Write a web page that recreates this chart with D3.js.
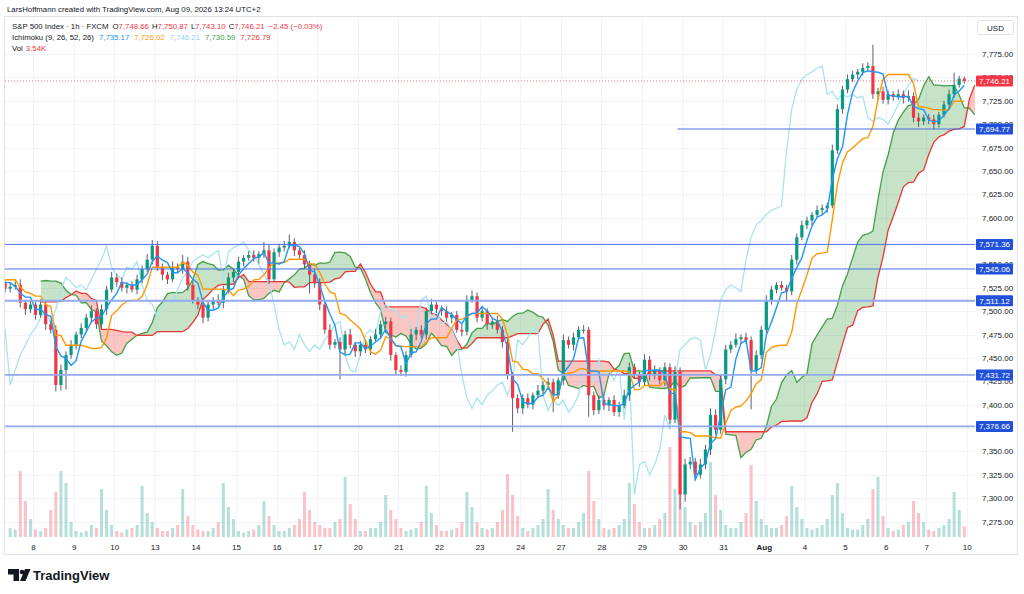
<!DOCTYPE html>
<html>
<head>
<meta charset="utf-8">
<script src="https://cdn.jsdelivr.net/npm/d3@7"></script>
<style>
  body { margin: 0; background: #fff; }
  svg { display: block; font-family: "Liberation Sans", Arial, sans-serif; }
</style>
</head>
<body>
<div id="chart"></div>
<script>
// S&P 500 Index, FXCM - one candle here stands for roughly 3 hours (8 per trading day)

// day labels along the time axis (first slot of each trading day)
const dayLabels = ["8", "9", "10", "13", "14", "15", "16", "17", "20", "21", "22", "23",
  "24", "27", "28", "29", "30", "31", "Aug", "4", "5", "6", "7", "10"];

const priceTicks = [7275, 7300, 7325, 7350, 7375, 7400, 7425, 7450, 7475, 7500, 7525,
  7550, 7575, 7600, 7625, 7650, 7675, 7700, 7725, 7750, 7775];

// bars left of the visible window (needed for the indicator look-back)
const earlierOpen = 7497;
const earlierCloses = [7495, 7488, 7482, 7478, 7485, 7492, 7500, 7506, 7512, 7518,
  7525, 7532, 7528, 7536, 7542, 7538, 7533, 7537, 7530, 7524];
const earlierWickUp = [4, 3, 4, 3, 5, 4, 3, 5, 4, 3, 5, 4, 3, 4, 5, 3, 4, 3, 4, 3];
const earlierWickDown = [3, 4, 3, 5, 4, 3, 4, 3, 5, 4, 3, 4, 5, 3, 4, 3, 4, 5, 3, 4];

// visible bars: close, wick above body, wick below body (points)
const closes = [
  7526, 7528, 7509, 7502, 7507,
  7496, 7507, 7486, 7480, 7421, 7437, 7453, 7464,
  7475, 7482, 7493, 7500, 7486, 7502, 7523, 7536,
  7531, 7525, 7528, 7523, 7534, 7545, 7555, 7570,
  7547, 7539, 7534, 7547, 7545, 7553, 7528, 7512,
  7507, 7493, 7507, 7512, 7509, 7523, 7536, 7542,
  7553, 7557, 7560, 7557, 7561, 7565, 7534, 7563,
  7568, 7570, 7574, 7565, 7560, 7550, 7539, 7530,
  7507, 7480, 7464, 7467, 7459, 7475, 7464, 7457,
  7464, 7459, 7470, 7475, 7486, 7489, 7453, 7437,
  7435, 7453, 7475, 7480, 7475, 7500, 7507, 7502,
  7500, 7493, 7496, 7480, 7478, 7512, 7516, 7493,
  7500, 7486, 7489, 7480, 7467, 7432, 7407, 7396,
  7407, 7400, 7410, 7415, 7421, 7424, 7410, 7426,
  7469, 7464, 7472, 7480, 7480, 7410, 7394, 7405,
  7399, 7405, 7392, 7399, 7410, 7440, 7432, 7424,
  7448, 7432, 7437, 7426, 7440, 7384, 7435, 7304,
  7336, 7339, 7325, 7336, 7352, 7389, 7373, 7427,
  7459, 7464, 7470, 7472, 7469, 7437, 7453, 7480,
  7512, 7523, 7528, 7525, 7521, 7555, 7579, 7592,
  7597, 7603, 7608, 7610, 7613, 7672, 7716, 7737,
  7748, 7753, 7756, 7760, 7762, 7732, 7735, 7726,
  7732, 7729, 7732, 7728, 7730, 7707, 7703, 7707,
  7705, 7700, 7710, 7721, 7732, 7742, 7748.66, 7746.21
];

const wickUp = [
  5, 4, 6, 3, 5,
  4, 6, 3, 4, 5, 6, 4, 5,
  3, 5, 4, 6, 3, 5, 4, 6,
  4, 5, 3, 4, 5, 4, 6, 6,
  5, 4, 3, 6, 4, 7, 5, 4,
  3, 5, 4, 3, 6, 4, 5, 4,
  5, 3, 4, 5, 3, 9, 6, 4,
  4, 5, 8, 4, 3, 5, 4, 6,
  5, 4, 6, 3, 5, 4, 6, 3,
  4, 5, 3, 6, 4, 5, 4, 3,
  5, 4, 6, 3, 5, 4, 6, 3,
  4, 5, 3, 4, 6, 5, 6, 4,
  5, 3, 4, 6, 4, 5, 3, 4,
  4, 5, 3, 6, 4, 5, 4, 3,
  6, 4, 5, 4, 5, 3, 4, 5,
  4, 3, 5, 4, 6, 5, 4, 3,
  6, 4, 5, 3, 5, 4, 6, 5,
  6, 5, 4, 6, 5, 7, 6, 5,
  5, 4, 6, 3, 5, 4, 5, 4,
  5, 4, 3, 4, 3, 5, 4, 5,
  4, 3, 5, 4, 3, 6, 5, 4,
  5, 4, 3, 5, 4, 23, 4, 5,
  4, 3, 5, 4, 6, 4, 5, 3,
  4, 5, 3, 4, 5, 13, 3, 2.21
];

const wickDown = [
  4, 3, 5, 6, 4,
  5, 3, 6, 4, 7, 6, 21, 4,
  5, 4, 3, 6, 5, 4, 6, 3,
  5, 4, 6, 3, 5, 4, 3, 5,
  4, 6, 5, 3, 4, 5, 6, 4,
  5, 6, 4, 5, 3, 6, 4, 5,
  4, 5, 3, 4, 6, 4, 5, 3,
  5, 4, 3, 6, 4, 5, 20, 5,
  6, 4, 5, 4, 32, 5, 4, 6,
  5, 4, 6, 3, 5, 4, 6, 5,
  4, 5, 3, 6, 4, 5, 3, 4,
  5, 4, 6, 3, 5, 4, 3, 5,
  4, 6, 5, 4, 6, 5, 36, 5,
  6, 4, 5, 3, 4, 5, 18, 4,
  5, 4, 6, 3, 4, 23, 5, 4,
  5, 6, 4, 5, 3, 6, 4, 5,
  4, 6, 5, 4, 6, 5, 4, 16,
  8, 5, 6, 4, 5, 6, 5, 4,
  5, 4, 3, 5, 4, 42, 5, 4,
  4, 5, 4, 3, 11, 4, 5, 3,
  4, 5, 3, 4, 5, 3, 4, 5,
  4, 3, 5, 4, 3, 5, 6, 4,
  5, 4, 3, 6, 4, 5, 6, 4,
  5, 6, 4, 3, 5, 4, 3, 3.11
];

// volume in thousands
const volumes = [
  3, 2.5, 22, 12, 6,
  2.5, 2, 3, 9, 15, 22, 18, 5,
  2, 1.5, 2, 4, 3, 16, 9, 4,
  2, 1.5, 2.5, 3, 4, 17, 8, 5,
  3, 2, 2, 3, 4, 16, 7, 4,
  2.5, 2, 2, 3, 5, 18, 10, 6,
  2, 1.5, 2, 2.5, 4, 12, 7, 4,
  2, 2, 3, 4, 6, 15, 9, 5,
  4, 3, 3, 5, 6, 20, 11, 6,
  2, 2, 3, 3, 5, 14, 9, 6,
  3, 2, 2.5, 3, 5, 17, 8, 4,
  2, 2, 2.5, 3, 5, 15, 10, 5,
  3, 2.5, 3, 5, 9, 21, 14, 7,
  3, 2, 3, 4, 6, 16, 9, 6,
  4, 3, 3, 5, 8, 22, 12, 6,
  3, 2.5, 3, 4, 6, 18, 11, 5,
  3, 3, 4, 6, 8, 30, 16, 24,
  10, 5, 4, 5, 8, 25, 14, 9,
  4, 3, 3, 5, 8, 24, 12, 6,
  4, 3, 3, 4, 7, 17, 10, 6,
  3, 2.5, 3, 4, 6, 14, 18, 8,
  3, 2.5, 2.5, 4, 6, 16, 20, 7,
  3, 2, 2.5, 4, 5, 12, 8, 5,
  2.5, 2, 3, 4, 6, 15, 9, 3.54
];

// horizontal lines drawn on the chart, and the slot where each one starts
const levels = [7694.77, 7571.36, 7545.06, 7511.12, 7431.72, 7376.66];
const levelStartSlot = [132, null, null, null, null, null];
const lastPrice = 7746.21;

// legend texts
const headerLine = "LarsHoffmann created with TradingView.com, Aug 09, 2026 13:24 UTC+2";
const ohlcLetters = ["O", "H", "L", "C"];
const ohlcText = ["7,748.66", "7,750.87", "7,743.10", "7,746.21"];
const changeText = "\u22122.45 (\u22120.03%)";
const ichimokuText = ["7,735.17", "7,726.02", "7,746.21", "7,730.59", "7,726.79"];
const volText = "3.54K";

// ---------------------------------------------------------------
const W = 1024, H = 594;
const plot = { left: 5, right: 975, top: 17, bottom: 537 };
const barsPerDay = 8, firstDaySlot = 5;

// Ichimoku (9, 26, 52, 26) hours, expressed in 3-hour bars
const tenkanLen = 3, kijunLen = 9, spanBLen = 18, shift = 9;

const colUp = "#089981", colDown = "#F23645";
const colTenkan = "#2196F3", colKijun = "#FF9800", colLag = "#A9E3EF";
const colSpanA = "#43A047", colSpanB = "#E53935";

// build candles
const allCloses = earlierCloses.concat(closes);
const allUp = earlierWickUp.concat(wickUp);
const allDown = earlierWickDown.concat(wickDown);
const offset = earlierCloses.length;

const candles = allCloses.map((c, g) => {
  const o = g === 0 ? earlierOpen : allCloses[g - 1];
  return {
    slot: g - offset,
    open: o,
    close: c,
    high: Math.max(o, c) + allUp[g],
    low: Math.min(o, c) - allDown[g],
    vol: g >= offset ? volumes[g - offset] : null
  };
});

function midRange(g, len) {
  if (g - len + 1 < 0) return null;
  let hi = -Infinity, lo = Infinity;
  for (let k = g - len + 1; k <= g; k++) {
    hi = Math.max(hi, candles[k].high);
    lo = Math.min(lo, candles[k].low);
  }
  return (hi + lo) / 2;
}

const tenkan = [], kijun = [], cloud = [], lagging = [];
candles.forEach((d, g) => {
  const t = midRange(g, tenkanLen), k = midRange(g, kijunLen), b = midRange(g, spanBLen);
  if (t != null) tenkan.push({ slot: d.slot, v: t });
  if (k != null) kijun.push({ slot: d.slot, v: k });
  if (t != null && k != null && b != null) cloud.push({ slot: d.slot + shift, a: (t + k) / 2, b: b });
  lagging.push({ slot: d.slot - shift, v: d.close });
});

// scales
const nDays = dayLabels.length - 1;
const x = d3.scaleLinear()
  .domain([firstDaySlot, firstDaySlot + nDays * barsPerDay])
  .range([33, 966.8]);
const y = d3.scaleLinear().domain([7275, 7775]).range([521.5, 54]);
const yVol = d3.scaleLinear().domain([0, 30]).range([plot.bottom, plot.bottom - 90]);
const cx = (s) => x(s + 0.5);

const svg = d3.select("#chart").append("svg").attr("width", W).attr("height", H);
const defs = svg.append("defs");
defs.append("clipPath").attr("id", "plotClip").append("rect")
  .attr("x", plot.left).attr("y", plot.top)
  .attr("width", plot.right - plot.left).attr("height", plot.bottom - plot.top);

// frame
svg.append("rect")
  .attr("x", 4.5).attr("y", 16.5).attr("width", 1013).attr("height", 538)
  .attr("fill", "none").attr("stroke", "#e0e3eb");

const g = svg.append("g").attr("clip-path", "url(#plotClip)");

// grid
const daySlots = dayLabels.map((_, i) => firstDaySlot + i * barsPerDay);
g.selectAll(".hgrid").data(priceTicks).enter().append("line")
  .attr("x1", plot.left).attr("x2", plot.right)
  .attr("y1", (d) => Math.round(y(d)) + 0.5).attr("y2", (d) => Math.round(y(d)) + 0.5)
  .attr("stroke", "#f0f3fa");
g.selectAll(".vgrid").data(daySlots).enter().append("line")
  .attr("x1", (d) => Math.round(x(d)) + 0.5).attr("x2", (d) => Math.round(x(d)) + 0.5)
  .attr("y1", plot.top).attr("y2", plot.bottom)
  .attr("stroke", "#f0f3fa");

// volume
const visible = candles.filter((d) => d.slot >= 0);
g.selectAll(".vol").data(visible).enter().append("rect")
  .attr("x", (d) => cx(d.slot) - 1.5)
  .attr("width", 3)
  .attr("y", (d) => yVol(d.vol))
  .attr("height", (d) => plot.bottom - yVol(d.vol))
  .attr("fill", (d) => (d.close >= d.open ? "rgba(8,153,129,0.3)" : "rgba(242,54,69,0.3)"));

// cloud: fill between the spans, green where A is above B, red elsewhere
const aboveB = d3.area().x((d) => cx(d.slot)).y0(plot.top - 50).y1((d) => y(d.b));
const belowB = d3.area().x((d) => cx(d.slot)).y0((d) => y(d.b)).y1(plot.bottom + 50);
defs.append("clipPath").attr("id", "aboveB").append("path").attr("d", aboveB(cloud));
defs.append("clipPath").attr("id", "belowB").append("path").attr("d", belowB(cloud));
const between = d3.area().x((d) => cx(d.slot)).y0((d) => y(d.a)).y1((d) => y(d.b));
g.append("g").attr("clip-path", "url(#aboveB)").append("path")
  .attr("d", between(cloud)).attr("fill", "rgba(67,160,71,0.3)");
g.append("g").attr("clip-path", "url(#belowB)").append("path")
  .attr("d", between(cloud)).attr("fill", "rgba(244,67,54,0.3)");

const line = d3.line().x((d) => cx(d.slot)).y((d) => y(d.v));
g.append("path").datum(cloud.map((d) => ({ slot: d.slot, v: d.a })))
  .attr("d", line).attr("fill", "none").attr("stroke", colSpanA).attr("stroke-width", 1.3);
g.append("path").datum(cloud.map((d) => ({ slot: d.slot, v: d.b })))
  .attr("d", line).attr("fill", "none").attr("stroke", colSpanB).attr("stroke-width", 1.3);

// lagging span
g.append("path").datum(lagging)
  .attr("d", line).attr("fill", "none").attr("stroke", colLag).attr("stroke-width", 1.3);

// candles
g.selectAll(".wick").data(candles).enter().append("line")
  .attr("x1", (d) => cx(d.slot)).attr("x2", (d) => cx(d.slot))
  .attr("y1", (d) => y(d.high)).attr("y2", (d) => y(d.low))
  .attr("stroke", "#5d606b").attr("stroke-width", 1);
g.selectAll(".body").data(candles).enter().append("rect")
  .attr("x", (d) => cx(d.slot) - 1.6)
  .attr("width", 3.2)
  .attr("y", (d) => y(Math.max(d.open, d.close)))
  .attr("height", (d) => Math.max(1, Math.abs(y(d.open) - y(d.close))))
  .attr("fill", (d) => (d.close >= d.open ? colUp : colDown));

// conversion and base lines
g.append("path").datum(kijun)
  .attr("d", line).attr("fill", "none").attr("stroke", colKijun).attr("stroke-width", 1.4);
g.append("path").datum(tenkan)
  .attr("d", line).attr("fill", "none").attr("stroke", colTenkan).attr("stroke-width", 1.4);

// horizontal levels
const faint = new Set([7511.12, 7431.72, 7376.66]);
levels.forEach((v, i) => {
  const from = levelStartSlot[i] == null ? plot.left : x(levelStartSlot[i]);
  g.append("line")
    .attr("x1", from).attr("x2", plot.right)
    .attr("y1", y(v)).attr("y2", y(v))
    .attr("stroke", faint.has(v) ? "#94a9ee" : "#4a6fe3")
    .attr("stroke-width", faint.has(v) ? 1.8 : 1);
});

// last price dotted line
g.append("line")
  .attr("x1", plot.left).attr("x2", plot.right)
  .attr("y1", y(lastPrice)).attr("y2", y(lastPrice))
  .attr("stroke", colDown).attr("stroke-width", 1).attr("stroke-dasharray", "1,2").attr("opacity", 0.7);

// labels for the levels and the last price
const boxes = levels.map((v) => ({ v: v, color: "#2151d9" }))
  .concat([{ v: lastPrice, color: colDown }]);

// price axis - a tick label that a box would cover completely is left out
const yAxis = svg.append("g")
  .attr("transform", `translate(${plot.right},0)`)
  .call(d3.axisRight(y).tickValues(priceTicks).tickSize(0).tickPadding(7)
    .tickFormat(d3.format(",.2f")));
yAxis.select(".domain").remove();
yAxis.selectAll("text").style("font-size", "8px").attr("fill", "#131722");
yAxis.selectAll(".tick")
  .filter((d) => boxes.some((b) => Math.abs(y(b.v) - y(d)) < 3))
  .remove();

boxes.forEach((b) => {
  const yy = y(b.v);
  svg.append("rect")
    .attr("x", 976).attr("y", yy - 5.5).attr("width", 37).attr("height", 11)
    .attr("rx", 1).attr("fill", b.color);
  svg.append("text")
    .attr("x", 994.5).attr("y", yy + 3)
    .attr("text-anchor", "middle")
    .style("font-size", "8px").attr("fill", "#fff")
    .text(d3.format(",.2f")(b.v));
});

// USD box
svg.append("rect")
  .attr("x", 977.5).attr("y", 20.5).attr("width", 36).attr("height", 14).attr("rx", 2)
  .attr("fill", "#fff").attr("stroke", "#e0e3eb");
svg.append("text").attr("x", 995.5).attr("y", 30.5).attr("text-anchor", "middle")
  .style("font-size", "8px").attr("fill", "#131722").text("USD");

// time axis
const xAxis = svg.append("g")
  .attr("transform", `translate(0,${plot.bottom})`)
  .call(d3.axisBottom(x).tickValues(daySlots).tickSize(0).tickPadding(7)
    .tickFormat((d, i) => dayLabels[i]));
xAxis.select(".domain").remove();
xAxis.selectAll("text")
  .style("font-size", "8px")
  .style("font-weight", (d, i) => (dayLabels[i] === "Aug" ? "bold" : "normal"))
  .attr("fill", "#131722");

// header
svg.append("text").attr("x", 7).attr("y", 12)
  .style("font-size", "7.8px").attr("fill", "#131722").text(headerLine);

const legendSize = "7.8px";
const leg1 = svg.append("text").attr("x", 12).attr("y", 29)
  .style("font-size", legendSize).attr("fill", "#131722");
leg1.append("tspan").text("S&P 500 Index \u00b7 1h \u00b7 FXCM");
ohlcLetters.forEach((letter, i) => {
  leg1.append("tspan").attr("dx", i === 0 ? 4 : 3).text(letter);
  leg1.append("tspan").attr("fill", colDown).text(ohlcText[i]);
});
leg1.append("tspan").attr("dx", 4).attr("fill", colDown).text(changeText);

const leg2 = svg.append("text").attr("x", 12).attr("y", 40)
  .style("font-size", legendSize).attr("fill", "#131722");
leg2.append("tspan").text("Ichimoku (9, 26, 52, 26)");
const ichiCol = [colTenkan, colKijun, "#8fd6e6", colSpanA, colSpanB];
ichimokuText.forEach((t, i) => {
  leg2.append("tspan").attr("dx", 5).attr("fill", ichiCol[i]).text(t);
});

const leg3 = svg.append("text").attr("x", 12).attr("y", 51)
  .style("font-size", legendSize).attr("fill", "#131722");
leg3.append("tspan").text("Vol");
leg3.append("tspan").attr("dx", 3).attr("fill", colDown).text(volText);

// TradingView mark
const logo = svg.append("g").attr("fill", "#131722");
logo.append("path").attr("d", "M8,569 h11 v12 h-5.5 v-6.5 h-5.5 z");
logo.append("circle").attr("cx", 22).attr("cy", 572).attr("r", 2.3);
logo.append("path").attr("d", "M25,569 h5.5 l-5,12 h-5.5 z");
svg.append("text").attr("x", 33).attr("y", 580)
  .style("font-size", "13px").style("font-weight", "600").attr("fill", "#131722")
  .text("TradingView");
</script>
</body>
</html>
